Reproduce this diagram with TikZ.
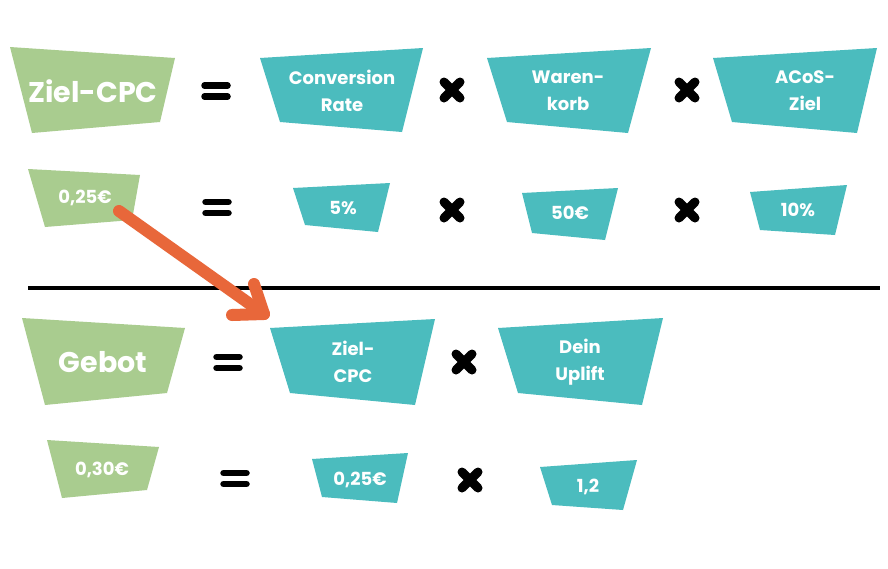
\documentclass[tikz,border=0pt]{standalone}
\usepackage{fontspec}
\setmainfont{Poppins}
\usetikzlibrary{calc}
\definecolor{sage}{HTML}{A9CC8F}
\definecolor{tealb}{HTML}{4BBCBE}
\definecolor{arrowor}{HTML}{E8673A}
\tikzset{
  lbl/.style={text=white, align=center, inner sep=0pt},
  bigtxt/.style={lbl, font=\fontsize{28.5}{32}\selectfont\bfseries},
  midtxt/.style={lbl, font=\fontsize{18}{27}\selectfont\bfseries},
  smalltxt/.style={lbl, font=\fontsize{18}{22}\selectfont\bfseries},
  greenbox/.style={fill=sage},
  tealbox/.style={fill=tealb},
  eqsign/.pic={\draw[line width=6.5pt, line cap=round] (-11.5,-5.5) -- (11.5,-5.5) (-11.5,5.5) -- (11.5,5.5);},
  timessign/.pic={\draw[line width=9pt, line cap=round] (-8,-8) -- (8,8) (-8,8) -- (8,-8);},
  bigarrow/.style={draw=arrowor, line width=12pt, line cap=round, line join=round}
}
\begin{document}
\begin{tikzpicture}[x=1pt,y=-1pt]
\useasboundingbox (0,0) rectangle (888,568);
\fill[white] (0,0) rectangle (888,568);

% ---------- Row 1 ----------
\fill[greenbox] (10,47) -- (175,58) -- (160,122) -- (32,133) -- cycle;
\node[bigtxt] (zielcpc) at (93,91) {Ziel-CPC};
\pic (eq1) at (216,91) {eqsign};
\fill[tealbox] (260,58) -- (423,48) -- (402,132) -- (280,122) -- cycle;
\node[midtxt] (conv) at (342,91) {Conversion\\Rate};
\pic (x1a) at (452,90) {timessign};
\fill[tealbox] (487,58) -- (651,48) -- (628,133) -- (507,122) -- cycle;
\node[midtxt] (waren) at (568,91) {Waren-\\korb};
\pic (x1b) at (687,90) {timessign};
\fill[tealbox] (713,58) -- (877,48) -- (857,133) -- (732,122) -- cycle;
\node[midtxt] (acos) at (805,91) {ACoS-\\Ziel};

% ---------- Row 2 ----------
\fill[greenbox] (28,169) -- (140,175) -- (132,220) -- (45,227) -- cycle;
\node[smalltxt] (v025) at (85,198) {0,25€};
\pic (eq2) at (217,207.5) {eqsign};
\fill[tealbox] (293,188) -- (390,183) -- (378,232) -- (305,225) -- cycle;
\node[smalltxt] (v5) at (343,208) {5\%};
\pic (x2a) at (452,210) {timessign};
\fill[tealbox] (522,193) -- (618,188) -- (605,240) -- (532,233) -- cycle;
\node[smalltxt] (v50) at (570,213) {50€};
\pic (x2b) at (687,210) {timessign};
\fill[tealbox] (750,192) -- (847,185) -- (835,235) -- (760,230) -- cycle;
\node[smalltxt] (v10) at (798,210) {10\%};

% ---------- divider ----------
\coordinate (divL) at (28,288);
\coordinate (divR) at (880,288);
\draw[line width=4pt] (divL) -- (divR);

% ---------- Row 3 ----------
\fill[greenbox] (22,318) -- (185,328) -- (167,393) -- (45,405) -- cycle;
\node[bigtxt] (gebot) at (103,362) {Gebot};
\pic (eq3) at (228,362.5) {eqsign};
\fill[tealbox] (270,328) -- (435,319) -- (415,405) -- (290,393) -- cycle;
\node[midtxt] (zcpc) at (353,362) {Ziel-\\CPC};
\pic (x3) at (464,362) {timessign};
\fill[tealbox] (498,328) -- (663,318) -- (642,405) -- (518,393) -- cycle;
\node[midtxt] (uplift) at (580,362) {Dein\\Uplift};

% ---------- Row 4 ----------
\fill[greenbox] (47,440) -- (159,447) -- (147,490) -- (62,498) -- cycle;
\node[smalltxt] (v030) at (102,470) {0,30€};
\pic (eq4) at (235,478.5) {eqsign};
\fill[tealbox] (312,459) -- (408,453) -- (397,503) -- (322,497) -- cycle;
\node[smalltxt] (v025b) at (360,480) {0,25€};
\pic (x4) at (470,480) {timessign};
\fill[tealbox] (540,467) -- (637,460) -- (623,510) -- (552,505) -- cycle;
\node[smalltxt] (v12) at (588,487) {1,2};

% ---------- arrow from 0,25€ to Ziel-CPC ----------
\coordinate (arrS) at ($(v025.center)+(34,13)$);
\coordinate (arrE) at ($(zcpc.center)+(-89,-48)$);
\coordinate (armA) at ($(arrE)+(-32,1)$);
\coordinate (armB) at ($(arrE)+(-10,-30)$);
\draw[bigarrow] (arrS) -- (arrE);
\draw[bigarrow] (armA) -- (arrE) -- (armB);
\end{tikzpicture}
\end{document}
